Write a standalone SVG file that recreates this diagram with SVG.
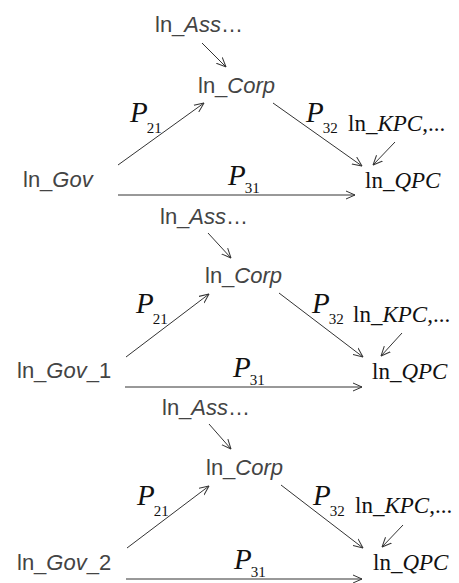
<svg xmlns="http://www.w3.org/2000/svg" width="459" height="583" viewBox="0 0 459 583">
<defs>
<marker id="ah" viewBox="0 0 10 10" markerUnits="userSpaceOnUse" markerWidth="10" markerHeight="10" refX="9.5" refY="5" orient="auto">
<path d="M0,0.8 L9.5,5 L0,9.2" fill="none" stroke="#333" stroke-width="1"/>
</marker>
<style>
.s{font-family:"Liberation Sans","DejaVu Sans",sans-serif;font-size:22px;fill:#444;}
.r{font-family:"Liberation Serif","DejaVu Serif",serif;font-size:23px;fill:#111;}
.p{font-family:"Liberation Serif","DejaVu Serif",serif;font-size:29px;font-style:italic;fill:#111;}
.sub{font-family:"Liberation Serif","DejaVu Serif",serif;font-size:15px;font-style:normal;fill:#111;}
.i{font-style:italic;}
.c line{stroke:#333;stroke-width:1;marker-end:url(#ah);}
</style>
</defs>
<rect width="459" height="583" fill="#fff"/>

<!-- Panel 1 -->
<g id="p1-ass"><text class="s" x="155" y="32">ln_<tspan class="i">Ass</tspan>…</text></g>
<g id="p1-corp"><text class="s" x="198" y="93">ln_<tspan class="i">Corp</tspan></text></g>
<g id="p1-gov"><text class="s" x="23" y="187">ln_<tspan class="i">Gov</tspan></text></g>
<g id="p1-kpc"><text class="r" x="348" y="131">ln_<tspan class="i">KPC</tspan>,...</text></g>
<g id="p1-qpc"><text class="r" x="365" y="188">ln_<tspan class="i">QPC</tspan></text></g>
<g id="p1-p21"><text class="p" x="130" y="122">P<tspan class="sub" dx="-1" dy="11">21</tspan></text></g>
<g id="p1-p32"><text class="p" x="306" y="122">P<tspan class="sub" dx="-1" dy="11">32</tspan></text></g>
<g id="p1-p31"><text class="p" x="228" y="185">P<tspan class="sub" dx="-1" dy="8">31</tspan></text></g>
<g id="p1-connectors" class="c">
<line x1="202" y1="43" x2="226" y2="67"/>
<line x1="118" y1="165" x2="204" y2="103"/>
<line x1="273" y1="103" x2="362" y2="166"/>
<line x1="395" y1="142" x2="373" y2="165"/>
<line x1="118" y1="195" x2="355" y2="195"/>
</g>

<!-- Panel 2 -->
<g id="p2-ass"><text class="s" x="160" y="224">ln_<tspan class="i">Ass</tspan>…</text></g>
<g id="p2-corp"><text class="s" x="205" y="283">ln_<tspan class="i">Corp</tspan></text></g>
<g id="p2-gov"><text class="s" x="17" y="378">ln_<tspan class="i">Gov</tspan>_1</text></g>
<g id="p2-kpc"><text class="r" x="353" y="322">ln_<tspan class="i">KPC</tspan>,...</text></g>
<g id="p2-qpc"><text class="r" x="372" y="379">ln_<tspan class="i">QPC</tspan></text></g>
<g id="p2-p21"><text class="p" x="136" y="313">P<tspan class="sub" dx="-1" dy="11">21</tspan></text></g>
<g id="p2-p32"><text class="p" x="312" y="313">P<tspan class="sub" dx="-1" dy="11">32</tspan></text></g>
<g id="p2-p31"><text class="p" x="233" y="377">P<tspan class="sub" dx="-1" dy="8">31</tspan></text></g>
<g id="p2-connectors" class="c">
<line x1="208" y1="233" x2="231" y2="258"/>
<line x1="126" y1="357" x2="209" y2="294"/>
<line x1="279" y1="293" x2="363" y2="357"/>
<line x1="402" y1="333" x2="381" y2="356"/>
<line x1="125" y1="387" x2="362" y2="387"/>
</g>

<!-- Panel 3 -->
<g id="p3-ass"><text class="s" x="162" y="415">ln_<tspan class="i">Ass</tspan>…</text></g>
<g id="p3-corp"><text class="s" x="206" y="475">ln_<tspan class="i">Corp</tspan></text></g>
<g id="p3-gov"><text class="s" x="17" y="570">ln_<tspan class="i">Gov</tspan>_2</text></g>
<g id="p3-kpc"><text class="r" x="355" y="513">ln_<tspan class="i">KPC</tspan>,...</text></g>
<g id="p3-qpc"><text class="r" x="373" y="570">ln_<tspan class="i">QPC</tspan></text></g>
<g id="p3-p21"><text class="p" x="137" y="505">P<tspan class="sub" dx="-1" dy="11">21</tspan></text></g>
<g id="p3-p32"><text class="p" x="313" y="505">P<tspan class="sub" dx="-1" dy="11">32</tspan></text></g>
<g id="p3-p31"><text class="p" x="234" y="569">P<tspan class="sub" dx="-1" dy="8">31</tspan></text></g>
<g id="p3-connectors" class="c">
<line x1="209" y1="424" x2="231" y2="449"/>
<line x1="127" y1="548" x2="209" y2="486"/>
<line x1="281" y1="485" x2="363" y2="548"/>
<line x1="403" y1="525" x2="382" y2="547"/>
<line x1="126" y1="579" x2="362" y2="579"/>
</g>
</svg>
